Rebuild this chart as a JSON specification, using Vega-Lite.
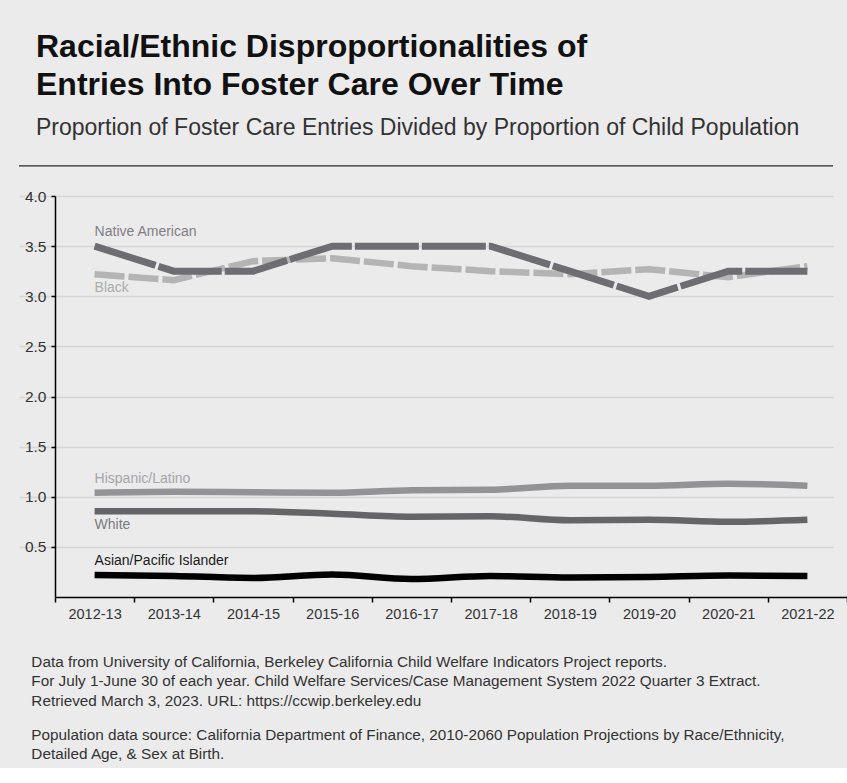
{
  "$schema": "https://vega.github.io/schema/vega-lite/v6.json",
  "background": "#ebebeb",
  "padding": {"left": 18, "top": 30, "right": 0, "bottom": 5},
  "config": {
    "font": "Liberation Sans",
    "view": {"stroke": null}
  },
  "datasets": {
    "rates": [
      {"year": "2012-13", "group": "Native American", "value": 3.5},
      {"year": "2013-14", "group": "Native American", "value": 3.25},
      {"year": "2014-15", "group": "Native American", "value": 3.25},
      {"year": "2015-16", "group": "Native American", "value": 3.5},
      {"year": "2016-17", "group": "Native American", "value": 3.5},
      {"year": "2017-18", "group": "Native American", "value": 3.5},
      {"year": "2018-19", "group": "Native American", "value": 3.25},
      {"year": "2019-20", "group": "Native American", "value": 3.0},
      {"year": "2020-21", "group": "Native American", "value": 3.25},
      {"year": "2021-22", "group": "Native American", "value": 3.25},
      {"year": "2012-13", "group": "Black", "value": 3.22},
      {"year": "2013-14", "group": "Black", "value": 3.16},
      {"year": "2014-15", "group": "Black", "value": 3.35},
      {"year": "2015-16", "group": "Black", "value": 3.38},
      {"year": "2016-17", "group": "Black", "value": 3.3},
      {"year": "2017-18", "group": "Black", "value": 3.25},
      {"year": "2018-19", "group": "Black", "value": 3.22},
      {"year": "2019-20", "group": "Black", "value": 3.27},
      {"year": "2020-21", "group": "Black", "value": 3.19},
      {"year": "2021-22", "group": "Black", "value": 3.3},
      {"year": "2012-13", "group": "Hispanic/Latino", "value": 1.04},
      {"year": "2013-14", "group": "Hispanic/Latino", "value": 1.05},
      {"year": "2014-15", "group": "Hispanic/Latino", "value": 1.045},
      {"year": "2015-16", "group": "Hispanic/Latino", "value": 1.04},
      {"year": "2016-17", "group": "Hispanic/Latino", "value": 1.065},
      {"year": "2017-18", "group": "Hispanic/Latino", "value": 1.07},
      {"year": "2018-19", "group": "Hispanic/Latino", "value": 1.11},
      {"year": "2019-20", "group": "Hispanic/Latino", "value": 1.11},
      {"year": "2020-21", "group": "Hispanic/Latino", "value": 1.13},
      {"year": "2021-22", "group": "Hispanic/Latino", "value": 1.11},
      {"year": "2012-13", "group": "White", "value": 0.855},
      {"year": "2013-14", "group": "White", "value": 0.855},
      {"year": "2014-15", "group": "White", "value": 0.855},
      {"year": "2015-16", "group": "White", "value": 0.83},
      {"year": "2016-17", "group": "White", "value": 0.8},
      {"year": "2017-18", "group": "White", "value": 0.805},
      {"year": "2018-19", "group": "White", "value": 0.765},
      {"year": "2019-20", "group": "White", "value": 0.77},
      {"year": "2020-21", "group": "White", "value": 0.75},
      {"year": "2021-22", "group": "White", "value": 0.77},
      {"year": "2012-13", "group": "Asian/Pacific Islander", "value": 0.22},
      {"year": "2013-14", "group": "Asian/Pacific Islander", "value": 0.21},
      {"year": "2014-15", "group": "Asian/Pacific Islander", "value": 0.19},
      {"year": "2015-16", "group": "Asian/Pacific Islander", "value": 0.225},
      {"year": "2016-17", "group": "Asian/Pacific Islander", "value": 0.18},
      {"year": "2017-18", "group": "Asian/Pacific Islander", "value": 0.21},
      {"year": "2018-19", "group": "Asian/Pacific Islander", "value": 0.195},
      {"year": "2019-20", "group": "Asian/Pacific Islander", "value": 0.2},
      {"year": "2020-21", "group": "Asian/Pacific Islander", "value": 0.215},
      {"year": "2021-22", "group": "Asian/Pacific Islander", "value": 0.21}
    ],
    "blank": [{"t": ""}]
  },
  "spacing": 0,
  "vconcat": [
    {
      "title": {
        "text": ["Racial/Ethnic Disproportionalities of", "Entries Into Foster Care Over Time"],
        "subtitle": "Proportion of Foster Care Entries Divided by Proportion of Child Population",
        "anchor": "start",
        "frame": "group",
        "dx": -19,
        "fontSize": 32,
        "fontWeight": "bold",
        "color": "#111111",
        "lineHeight": 38,
        "subtitleFontSize": 23,
        "subtitleColor": "#333333",
        "subtitlePadding": 15,
        "offset": 13
      },
      "data": {"name": "blank"},
      "width": 792,
      "height": 1,
      "mark": "text",
      "encoding": {"text": {"field": "t"}}
    },
    {
      "width": 792,
      "height": 401,
      "title": {
        "text": [
          "Data from University of California, Berkeley California Child Welfare Indicators Project reports.",
          "For July 1-June 30 of each year. Child Welfare Services/Case Management System 2022 Quarter 3 Extract.",
          "Retrieved March 3, 2023. URL: https://ccwip.berkeley.edu"
        ],
        "subtitle": [
          "Population data source: California Department of Finance, 2010-2060 Population Projections by Race/Ethnicity,",
          "Detailed Age, & Sex at Birth."
        ],
        "orient": "bottom",
        "anchor": "start",
        "dx": 13,
        "fontSize": 15.3,
        "fontWeight": "normal",
        "color": "#333333",
        "lineHeight": 19.5,
        "subtitleFontSize": 15.3,
        "subtitleColor": "#333333",
        "subtitleLineHeight": 19.5,
        "subtitlePadding": 19,
        "offset": 34
      },
      "resolve": {"scale": {"x": "independent"}, "axis": {"x": "independent"}},
      "layer": [
        {
          "data": {"name": "blank"},
          "mark": {"type": "rule", "color": "#2a2a2a", "strokeWidth": 1.3},
          "encoding": {
            "x": {"datum": 0, "type": "quantitative", "scale": {"domain": [0, 1], "range": [-36, 778]}, "axis": null},
            "x2": {"datum": 1},
            "y": {"datum": 4.3, "type": "quantitative", "scale": {"domain": [0, 4], "nice": false}}
          }
        },
        {
          "data": {"name": "rates"},
          "encoding": {
            "x": {
              "field": "year",
              "type": "ordinal",
              "bandPosition": 0.5,
              "scale": {"type": "band", "paddingInner": 0, "paddingOuter": 0},
              "axis": {
                "title": null,
                "labelAngle": 0,
                "labelFontSize": 14.5,
                "labelColor": "#333333",
                "labelPadding": 5,
                "tickBand": "extent",
                "tickColor": "#000000",
                "tickSize": 5,
                "tickWidth": 1.5,
                "domainColor": "#000000",
                "domainWidth": 1.5,
                "grid": false
              }
            },
            "y": {
              "field": "value",
              "type": "quantitative",
              "scale": {"domain": [0, 4], "nice": false},
              "axis": {
                "title": null,
                "values": [0.5, 1, 1.5, 2, 2.5, 3, 3.5, 4],
                "format": ".1f",
                "labelFontSize": 15.5,
                "labelColor": "#333333",
                "labelPadding": 5,
                "tickColor": "#000000",
                "tickSize": 4,
                "tickWidth": 1.5,
                "domainColor": "#000000",
                "domainWidth": 1.5,
                "grid": true,
                "gridColor": "#d6d6d6",
                "gridWidth": 1.5,
                "minExtent": 36
              }
            }
          },
          "layer": [
            {
              "transform": [{"filter": "datum.group === 'Black'"}],
              "mark": {"type": "line", "color": "#b4b4b4", "strokeWidth": 6.5, "strokeDash": [30, 4], "strokeCap": "butt"}
            },
            {
              "transform": [{"filter": "datum.group === 'Native American'"}],
              "mark": {"type": "line", "color": "#6e6d72", "strokeWidth": 7, "strokeDash": [64, 3], "strokeCap": "butt"}
            },
            {
              "transform": [{"filter": "datum.group !== 'Black' && datum.group !== 'Native American'"}],
              "mark": {"type": "line", "strokeWidth": 6.5, "interpolate": "monotone", "strokeCap": "butt"},
              "encoding": {
                "stroke": {
                  "field": "group",
                  "type": "nominal",
                  "scale": {"domain": ["Hispanic/Latino", "White", "Asian/Pacific Islander"], "range": ["#939396", "#656567", "#000000"]},
                  "legend": null
                }
              }
            },
            {
              "transform": [{"filter": "datum.year === '2012-13' && (datum.group === 'Native American' || datum.group === 'Hispanic/Latino' || datum.group === 'Asian/Pacific Islander')"}],
              "mark": {"type": "text", "align": "left", "baseline": "bottom", "dy": -7, "fontSize": 14},
              "encoding": {
                "text": {"field": "group"},
                "fill": {
                  "field": "group",
                  "type": "nominal",
                  "scale": {"domain": ["Native American", "Black", "Hispanic/Latino", "White", "Asian/Pacific Islander"], "range": ["#7f7f82", "#acacac", "#a6a6a8", "#7c7c7e", "#1a1a1a"]},
                  "legend": null
                }
              }
            },
            {
              "transform": [{"filter": "datum.year === '2012-13' && (datum.group === 'Black' || datum.group === 'White')"}],
              "mark": {"type": "text", "align": "left", "baseline": "top", "dy": 7, "fontSize": 14},
              "encoding": {
                "text": {"field": "group"},
                "fill": {
                  "field": "group",
                  "type": "nominal",
                  "scale": {"domain": ["Native American", "Black", "Hispanic/Latino", "White", "Asian/Pacific Islander"], "range": ["#7f7f82", "#acacac", "#a6a6a8", "#7c7c7e", "#1a1a1a"]},
                  "legend": null
                }
              }
            }
          ]
        }
      ]
    }
  ]
}
